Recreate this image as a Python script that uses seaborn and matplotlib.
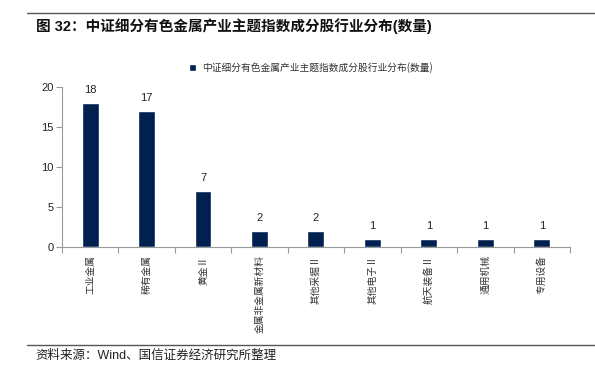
import matplotlib
matplotlib.use("Agg")
import matplotlib.pyplot as plt
import seaborn as sns
import pandas as pd
from matplotlib.ticker import FixedLocator, NullFormatter

categories = ["工业金属", "稀有金属", "黄金Ⅱ", "金属非金属新材料", "其他采掘Ⅱ",
              "其他电子Ⅱ", "航天装备Ⅱ", "通用机械", "专用设备"]
counts = [18, 17, 7, 2, 2, 1, 1, 1, 1]
series_name = "中证细分有色金属产业主题指数成分股行业分布(数量)"
title_text = "图 32：中证细分有色金属产业主题指数成分股行业分布(数量)"
source_text = "资料来源：Wind、国信证券经济研究所整理"
yticks = [0, 5, 10, 15, 20]

sns.set_theme(style="white")
plt.rcParams["font.family"] = ["Liberation Sans", "Noto Sans CJK SC", "DejaVu Sans"]

df = pd.DataFrame({"cat": categories, "val": counts})

fig = plt.figure(figsize=(5.95, 3.69), dpi=100)
ax = fig.add_axes([0.104, 0.3306, 0.854, 0.4334])

bar_color = "#002050"
sns.barplot(data=df, x="cat", y="val", color=bar_color, width=0.3,
            saturation=1, ax=ax, label=series_name)

ax.set_ylim(0, 20)
ax.set_xlim(-0.5, len(categories) - 0.5)
ax.set_yticks(yticks)
ax.set_yticklabels([str(v) for v in yticks], fontsize=8, color="#222222")
ax.set_xlabel("")
ax.set_ylabel("")

ax.set_xticks(range(len(categories)))
ax.set_xticklabels(categories, rotation=90, fontsize=7, color="#333333",
                   family=["Noto Sans CJK SC", "DejaVu Sans"])
ax.tick_params(axis="x", which="major", length=0, pad=6)
ax.xaxis.set_minor_locator(FixedLocator([i - 0.5 for i in range(len(categories) + 1)]))
ax.xaxis.set_minor_formatter(NullFormatter())
ax.tick_params(axis="x", which="minor", length=4, width=0.8, color="#999999", bottom=True, direction="out")
ax.tick_params(axis="y", length=4, width=0.8, color="#999999", left=True, direction="out", pad=2)

for side in ["top", "right"]:
    ax.spines[side].set_visible(False)
for side in ["left", "bottom"]:
    ax.spines[side].set_color("#999999")
    ax.spines[side].set_linewidth(0.8)

for container in ax.containers:
    ax.bar_label(container, labels=[str(v) for v in counts], padding=6,
                 fontsize=8, color="#222222")

leg = ax.legend(loc="upper center", bbox_to_anchor=(0.49, 1.21), frameon=False,
                handlelength=0.7, handleheight=0.7, handletextpad=0.6,
                prop={"family": ["Noto Sans CJK SC", "DejaVu Sans"], "size": 7})
for t in leg.get_texts():
    t.set_color("#333333")

# header / footer
fig.lines.append(plt.Line2D([0.045, 1.0], [1 - 12.5 / 369, 1 - 12.5 / 369],
                            transform=fig.transFigure, color="#555555", linewidth=1.0))
fig.text(0.06, 1 - 26 / 369, title_text, fontsize=10.5, fontweight="bold",
         va="center", ha="left", color="#111111")
fig.lines.append(plt.Line2D([0.045, 1.0], [1 - 345 / 369, 1 - 345 / 369],
                            transform=fig.transFigure, color="#555555", linewidth=1.0))
fig.text(0.059, 1 - 356 / 369, source_text, fontsize=9, va="center", ha="left",
         color="#222222")

fig.savefig("out.png", dpi=100)
